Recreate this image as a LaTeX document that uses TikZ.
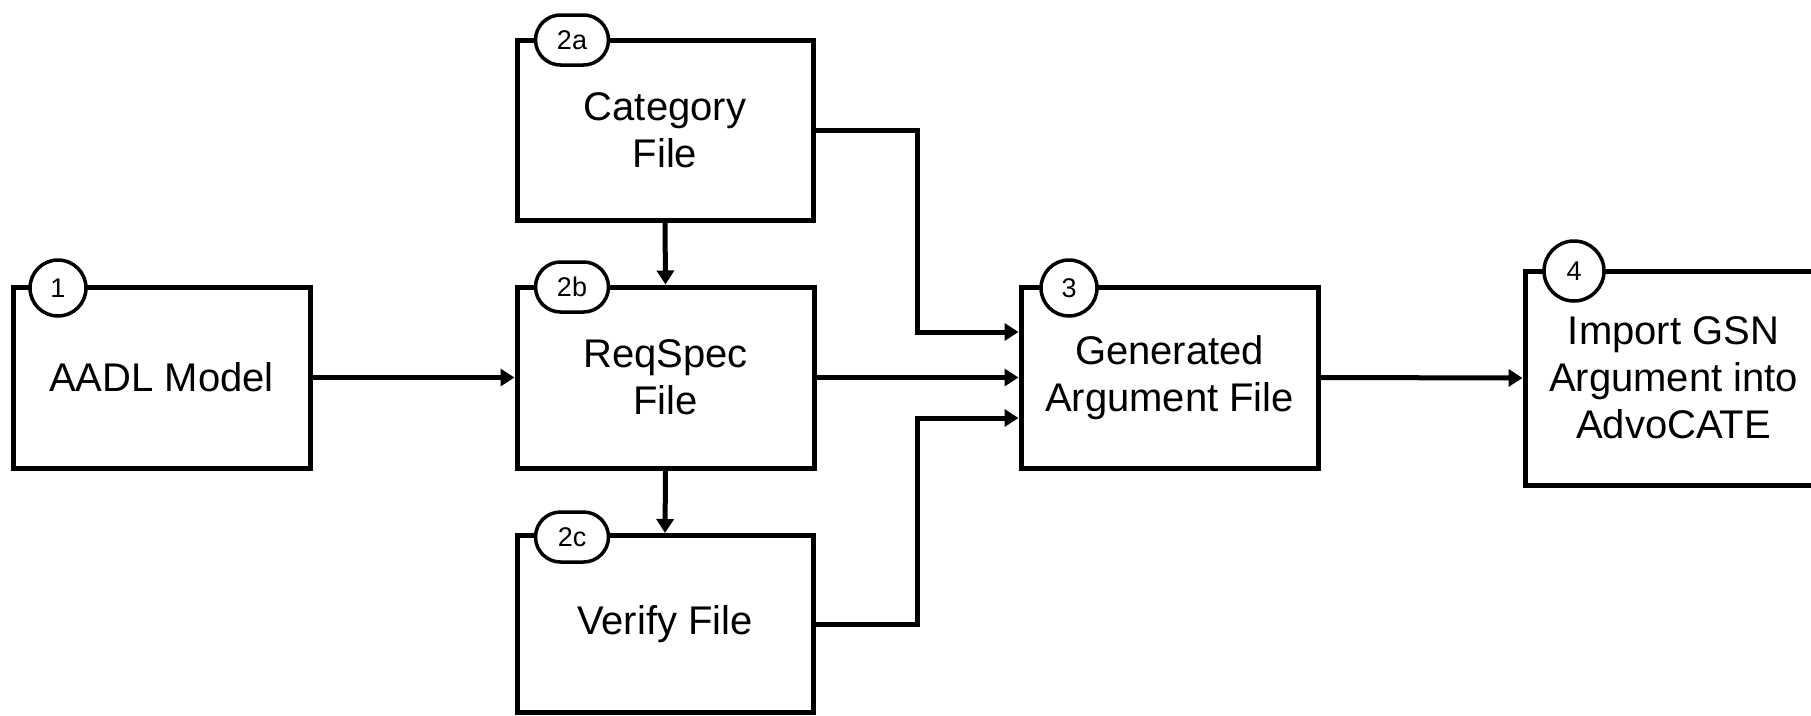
\documentclass[tikz,border=0pt]{standalone}
\usepackage{fontspec}
\setmainfont{Liberation Sans}
\usetikzlibrary{arrows.meta,shapes.misc,calc}
\begin{document}
\begin{tikzpicture}[x=1pt,y=-1pt,
  box/.style={draw,line width=5pt,line join=miter,fill=white,align=center,
    font=\fontsize{40}{47}\selectfont,inner sep=0pt},
  badge/.style={draw,line width=3.5pt,fill=white,circle,minimum size=56pt,inner sep=0pt,
    font=\fontsize{27}{30}\selectfont},
  oval/.style={draw,line width=3.5pt,fill=white,rounded rectangle,minimum width=73pt,
    minimum height=50pt,inner sep=0pt,font=\fontsize{27}{30}\selectfont},
  arr/.style={line width=5pt,-{Triangle[length=14pt,width=17pt]}},
  conn/.style={line width=5pt}]
\useasboundingbox (0,0) rectangle (1811,715);
\begin{scope}
\clip (0,0) rectangle (1811,715);
% boxes
\node[box,minimum width=297pt,minimum height=181pt] (aadl) at (161.5,377.5) {AADL Model};
\node[box,minimum width=296pt,minimum height=180pt] (cat) at (665,130) {Category\\File};
\node[box,minimum width=297pt,minimum height=181pt] (req) at (665.5,377.5) {ReqSpec\\File};
\node[box,minimum width=296pt,minimum height=177pt] (ver) at (665,624) {Verify File};
\node[box,minimum width=297pt,minimum height=181pt] (gen) at (1169.5,377.5) {Generated\\Argument File};
\node[box,minimum width=297pt,minimum height=214pt] (imp) at (1673.5,378) {Import GSN\\Argument into\\AdvoCATE};
% helper coordinates
\coordinate (jx) at (917,0);
\coordinate (g1) at ([yshift=45.5pt]gen.west);
\coordinate (g3) at ([yshift=-40.5pt]gen.west);
% connectors
\draw[arr] (aadl.east) -- (req.west);
\draw[arr] (cat.south) -- (req.north);
\draw[arr] (req.south) -- (ver.north);
\draw[arr] (cat.east) -| (jx |- g1) -- (g1);
\draw[arr] (req.east) -- (gen.west);
\draw[arr] (ver.east) -| (jx |- g3) -- (g3);
\draw[arr] (gen.east) -- (imp.west);
% badges
\node[badge] (b1) at (58,288) {1};
\node[oval] (b2a) at (572,40) {2a};
\node[oval] (b2b) at (572,287) {2b};
\node[oval] (b2c) at (572,537) {2c};
\node[badge] (b3) at (1069,288) {3};
\node[badge,minimum size=60pt] (b4) at (1574,271) {4};
\end{scope}
\end{tikzpicture}
\end{document}
